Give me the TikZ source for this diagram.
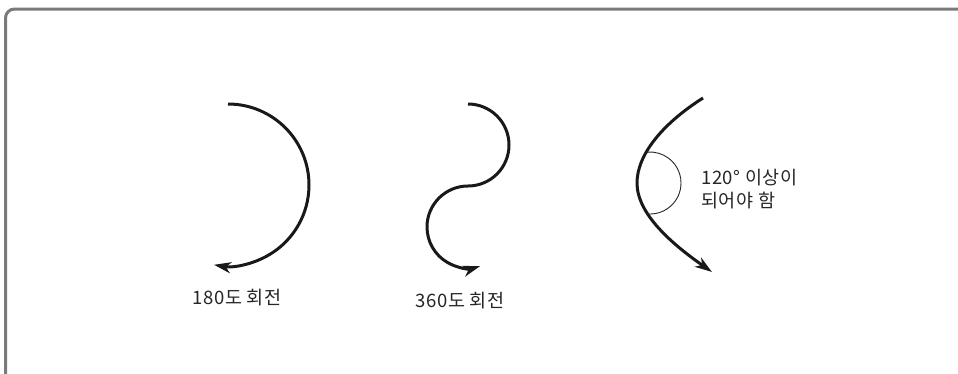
\documentclass[tikz,border=0pt]{standalone}
\usepackage{fontspec}
\newfontfamily\cjk[LetterSpace=3]{Noto Sans CJK KR}
\usetikzlibrary{arrows.meta,calc}
\begin{document}
\begin{tikzpicture}[x=1pt,y=-1pt,
  curve/.style={line width=3pt,color=black!90,-{Stealth[length=17pt,width=11pt,inset=5pt]}},
  anglearc/.style={line width=0.9pt,color=black!85},
  frame/.style={line width=3pt,color=black!52,rounded corners=9pt},
  lbl/.style={font=\cjk\fontsize{18.5}{20}\selectfont,inner sep=0pt,text=black!85}]
\useasboundingbox (0,0) rectangle (958,373);
\coordinate (fbl) at (5.5,374);
\coordinate (ftl) at (5.5,9);
\coordinate (ftr) at (958,9);
\draw[frame] (fbl) -- (ftl) -- (ftr);
% 180 degree turn
\coordinate (s1) at (228,104);
\draw[curve] (s1) arc[start angle=-90,end angle=100,radius=81];
\node[lbl,anchor=center] (l1) at (237,298) {180도 회전};
% 360 degree turn
\coordinate (s2) at (468,104);
\draw[curve] (s2) arc[start angle=-90,end angle=90,radius=41]
  arc[start angle=-90,end angle=-287,radius=41];
\node[lbl,anchor=center] (l2) at (460,301) {360도 회전};
% 120 degree
\coordinate (s3) at (703,98);
\coordinate (m3) at (637,183);
\coordinate (e3) at (712,272);
\draw[curve] (s3) .. controls (662,124) and (637,155) .. (m3)
  .. controls (637,214) and (672,244) .. (e3);
\coordinate (ac) at (650,183);
\draw[anglearc] ($(ac)+(97:31)$) arc[start angle=97,end angle=-95,radius=31];
\node[lbl,anchor=west] (t1) at (701,178) {120° 이상이};
\node[lbl,anchor=west] (t2) at (701,201) {되어야 함};
\end{tikzpicture}
\end{document}
